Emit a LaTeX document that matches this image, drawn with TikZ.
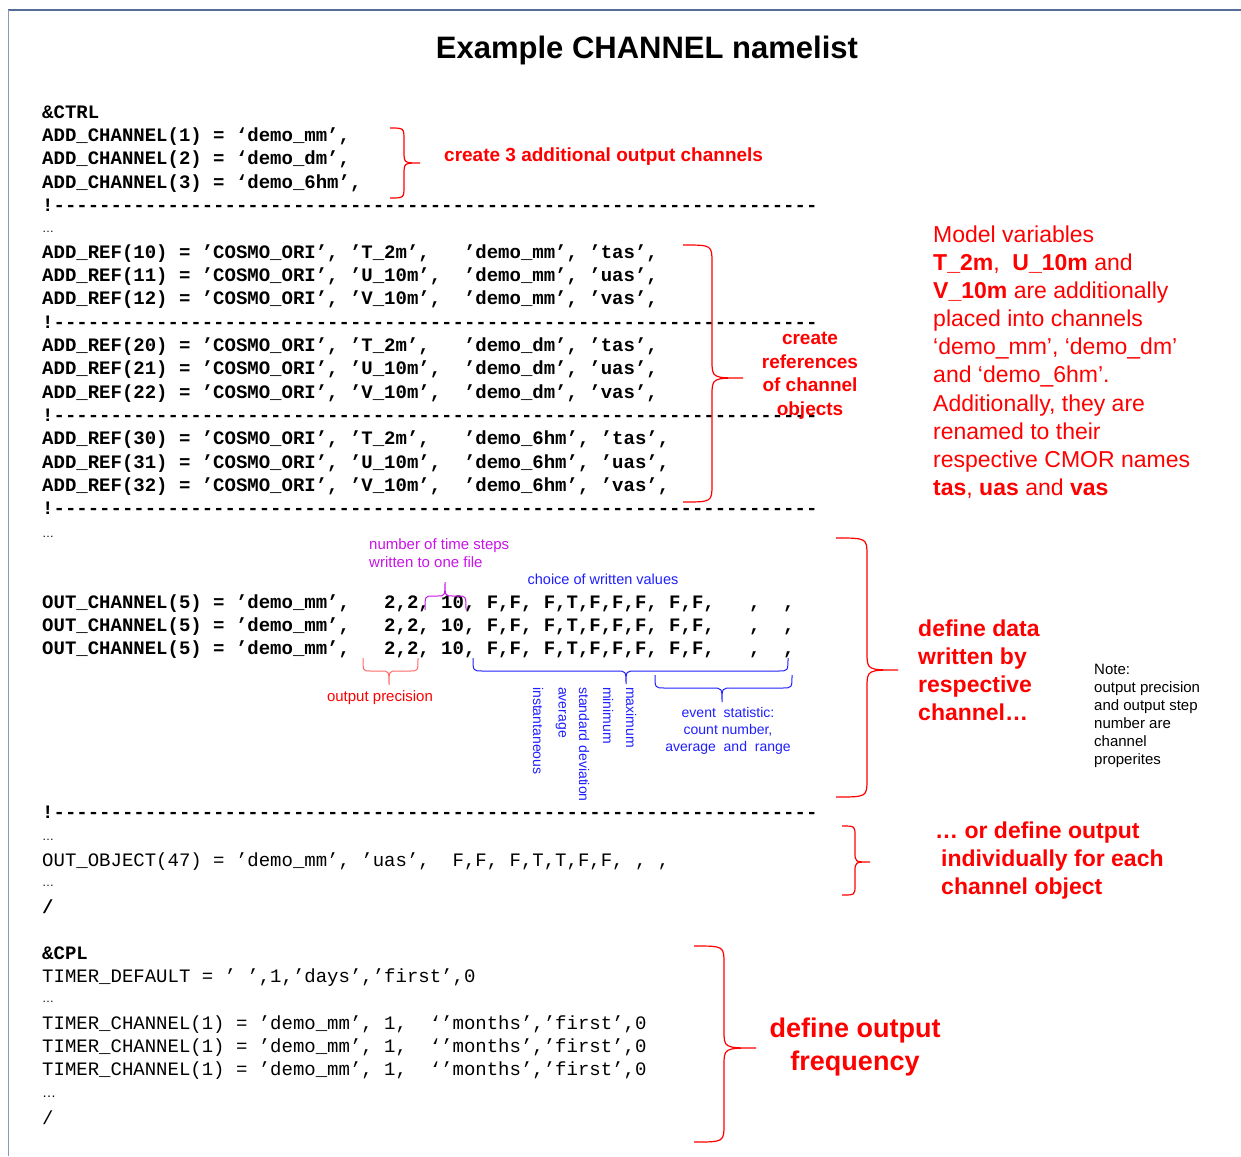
\documentclass[tikz,border=0pt]{standalone}
\usepackage{fontspec}
\setmainfont{Liberation Sans}
\newfontfamily\codefont{Liberation Mono}
\definecolor{myred}{RGB}{255,0,0}
\definecolor{myblue}{RGB}{30,30,255}
\definecolor{mymag}{RGB}{200,20,230}
\definecolor{mysalmon}{RGB}{255,105,105}
\definecolor{frameblue}{RGB}{85,110,150}
% vertical brace pointing right: x0 (ends), xs (spine), xt (tip), y1, ym, y2, r
\newcommand\myvbrace[8][]{%
  \draw[#1] (#2,#5) .. controls (#3,#5) and (#3,#5) .. (#3,{#5+#8}) -- (#3,{#6-#8})
    .. controls (#3,#6) and (#3,#6) .. (#4,#6)
    .. controls (#3,#6) and (#3,#6) .. (#3,{#6+#8}) -- (#3,{#7-#8})
    .. controls (#3,#7) and (#3,#7) .. (#2,#7);}
% horizontal brace: x1, xm, x2, y0 (ends), ys (spine), yt (tip), r
\newcommand\myhbrace[8][]{%
  \draw[#1] (#2,#5) .. controls (#2,#6) and (#2,#6) .. ({#2+#8},#6) -- ({#3-#8},#6)
    .. controls (#3,#6) and (#3,#6) .. (#3,#7)
    .. controls (#3,#6) and (#3,#6) .. ({#3+#8},#6) -- ({#4-#8},#6)
    .. controls (#4,#6) and (#4,#6) .. (#4,#5);}
\newcommand\dashrun{!\foreach\k in {1,...,67}{\hbox{-}}}
\begin{document}
\begin{tikzpicture}[x=1pt,y=-1pt,
  code/.style={font=\codefont\bfseries\fontsize{19}{23}\selectfont, anchor=base west, inner sep=0pt},
  codereg/.style={font=\codefont\fontsize{19}{23}\selectfont, anchor=base west, inner sep=0pt},
  ell/.style={font=\fontsize{12}{14}\selectfont, anchor=base west, inner sep=0pt},
  redbold/.style={text=myred, font=\bfseries\fontsize{#1}{#1}\selectfont, inner sep=0pt},
  bluesmall/.style={text=myblue, font=\fontsize{14}{17}\selectfont, inner sep=0pt},
  rbrace/.style={draw=myred, line width=1.2pt},
]
\useasboundingbox (0,0) rectangle (1241,1156);
% frame
\draw[frameblue, line width=2pt] (8,10) -- (1241,10);
\draw[frameblue!70, line width=1pt] (8,10) -- (8,1156);

\node[font=\bfseries\fontsize{31}{36}\selectfont, inner sep=0pt] (title) at (647,50) {Example CHANNEL namelist};

% --- code block ---
\node[code] (ctrl) at (42,118) {\&CTRL};
\node[code] (ac1) at (42,141.3) {ADD\_CHANNEL(1) = ‘demo\_mm’,};
\node[code] (ac2) at (42,164.6) {ADD\_CHANNEL(2) = ‘demo\_dm’,};
\node[code] (ac3) at (42,188) {ADD\_CHANNEL(3) = ‘demo\_6hm’,};
\node[code] (d1) at (42,211.3) {\dashrun};
\node[ell] (e1) at (42,232) {…};
\node[code] (r10) at (42,258) {ADD\_REF(10) = ’COSMO\_ORI’, ’T\_2m’,~~~’demo\_mm’, ’tas’,};
\node[code] (r11) at (42,281.3) {ADD\_REF(11) = ’COSMO\_ORI’, ’U\_10m’,~~’demo\_mm’, ’uas’,};
\node[code] (r12) at (42,304.6) {ADD\_REF(12) = ’COSMO\_ORI’, ’V\_10m’,~~’demo\_mm’, ’vas’,};
\node[code] (d2) at (42,328) {\dashrun};
\node[code] (r20) at (42,351.3) {ADD\_REF(20) = ’COSMO\_ORI’, ’T\_2m’,~~~’demo\_dm’, ’tas’,};
\node[code] (r21) at (42,374.6) {ADD\_REF(21) = ’COSMO\_ORI’, ’U\_10m’,~~’demo\_dm’, ’uas’,};
\node[code] (r22) at (42,398) {ADD\_REF(22) = ’COSMO\_ORI’, ’V\_10m’,~~’demo\_dm’, ’vas’,};
\node[code] (d3) at (42,421.3) {\dashrun};
\node[code] (r30) at (42,444.6) {ADD\_REF(30) = ’COSMO\_ORI’, ’T\_2m’,~~~’demo\_6hm’, ’tas’,};
\node[code] (r31) at (42,468) {ADD\_REF(31) = ’COSMO\_ORI’, ’U\_10m’,~~’demo\_6hm’, ’uas’,};
\node[code] (r32) at (42,491.3) {ADD\_REF(32) = ’COSMO\_ORI’, ’V\_10m’,~~’demo\_6hm’, ’vas’,};
\node[code] (d4) at (42,514.6) {\dashrun};
\node[ell] (e2) at (42,537) {…};
\node[code] (oc1) at (42,608) {OUT\_CHANNEL(5) = ’demo\_mm’,~~~2,2,~10,~F,F,~F,T,F,F,F,~F,F,~~~,~~,};
\node[code] (oc2) at (42,631.3) {OUT\_CHANNEL(5) = ’demo\_mm’,~~~2,2,~10,~F,F,~F,T,F,F,F,~F,F,~~~,~~,};
\node[code] (oc3) at (42,654.6) {OUT\_CHANNEL(5) = ’demo\_mm’,~~~2,2,~10,~F,F,~F,T,F,F,F,~F,F,~~~,~~,};
\node[code] (d5) at (42,818) {\dashrun};
\node[ell] (e3) at (42,840) {…};
\node[codereg] (oo) at (42,866) {OUT\_OBJECT(47) = ’demo\_mm’, ’uas’,~~F,F, F,T,T,F,F, , ,};
\node[ell] (e4) at (42,886) {…};
\node[code] (sl1) at (42,913) {/};
\node[code] (cpl) at (42,959) {\&CPL};
\node[codereg] (td) at (42,982) {TIMER\_DEFAULT = ’~’,1,’days’,’first’,0};
\node[ell] (e5) at (42,1002) {…};
\node[codereg] (tc1) at (42,1029) {TIMER\_CHANNEL(1) = ’demo\_mm’, 1,~~‘’months’,’first’,0};
\node[codereg] (tc2) at (42,1052.3) {TIMER\_CHANNEL(1) = ’demo\_mm’, 1,~~‘’months’,’first’,0};
\node[codereg] (tc3) at (42,1075.6) {TIMER\_CHANNEL(1) = ’demo\_mm’, 1,~~‘’months’,’first’,0};
\node[ell, font=\fontsize{14}{16}\selectfont] (e6) at (42,1097) {…};
\node[codereg] (sl2) at (42,1124) {/};

% --- big red braces ---
\myvbrace[rbrace]{390}{404}{420}{128}{163}{198}{12}
\myvbrace[rbrace]{683}{712}{743}{245}{378}{502}{18}
\myvbrace[rbrace]{836}{867}{898}{538}{670}{797}{18}
\myvbrace[rbrace]{842}{855}{870}{826}{862}{895}{10}
\myvbrace[rbrace]{694}{724}{756}{946}{1048}{1142}{18}

% --- small braces ---
\myhbrace[draw=mymag, line width=1pt]{425}{445}{466}{610}{596}{582}{8}
\myhbrace[draw=mysalmon, line width=1pt]{363}{389}{418}{658}{671}{685}{8}
\myhbrace[draw=myblue, line width=1pt]{473}{626}{788}{658}{671}{684}{10}
\myhbrace[draw=myblue, line width=1pt]{655}{722}{792}{675}{688}{702}{10}

% --- labels ---
\node[redbold=19, anchor=west] (lab1) at (444,157) {create 3 additional output channels};
\node[redbold=19, align=center, font=\bfseries\fontsize{19}{23.5}\selectfont] (lab2) at (810,376) {create\\references\\of channel\\objects};
\node[text=myred, font=\fontsize{23}{28.1}\selectfont, align=left, anchor=west, inner sep=0pt] (lab3) at (933,362)
  {Model variables\\
   \textbf{T\_2m},~ \textbf{U\_10m} and\\
   \textbf{V\_10m} are additionally\\
   placed into channels\\
   ‘demo\_mm’, ‘demo\_dm’\\
   and ‘demo\_6hm’.\\
   Additionally, they are\\
   renamed to their\\
   respective CMOR names\\
   \textbf{tas}, \textbf{uas} and \textbf{vas}};
\node[redbold=23, align=left, anchor=west, font=\bfseries\fontsize{23}{28}\selectfont] (lab4) at (918,670) {define data\\written by\\respective\\channel…};
\node[font=\fontsize{15}{18}\selectfont, align=left, anchor=west, inner sep=0pt] (note) at (1094,716) {Note:\\output precision\\and output step\\number are\\channel\\properites};
\node[redbold=23, align=left, anchor=west, font=\bfseries\fontsize{23}{28}\selectfont] (lab5) at (935,861) {… or define output\\\hspace*{6pt}individually for each\\\hspace*{6pt}channel object};
\node[redbold=27, align=center, font=\bfseries\fontsize{27}{33}\selectfont] (lab6) at (855,1047) {define output\\frequency};

\node[text=mymag, font=\fontsize{15}{18}\selectfont, align=left, anchor=west, inner sep=0pt] (lab7) at (369,553) {number of time steps\\written to one file};
\node[text=myblue, font=\fontsize{14.5}{17}\selectfont, inner sep=0pt] (lab8) at (603,579) {choice of written values};
\node[text=myred, font=\fontsize{15}{18}\selectfont, inner sep=0pt] (lab9) at (380,698) {output precision};
\node[bluesmall, align=center] (lab10) at (728,731) {event~ statistic:\\count number,\\average~ and~ range};
\node[bluesmall, rotate=-90, anchor=west] (v1) at (538,687) {instantaneous};
\node[bluesmall, rotate=-90, anchor=west] (v2) at (561,687) {average};
\node[bluesmall, rotate=-90, anchor=west] (v3) at (584,687) {standard deviation};
\node[bluesmall, rotate=-90, anchor=west] (v4) at (608,687) {minimum};
\node[bluesmall, rotate=-90, anchor=west] (v5) at (631,687) {maximum};
\end{tikzpicture}
\end{document}
